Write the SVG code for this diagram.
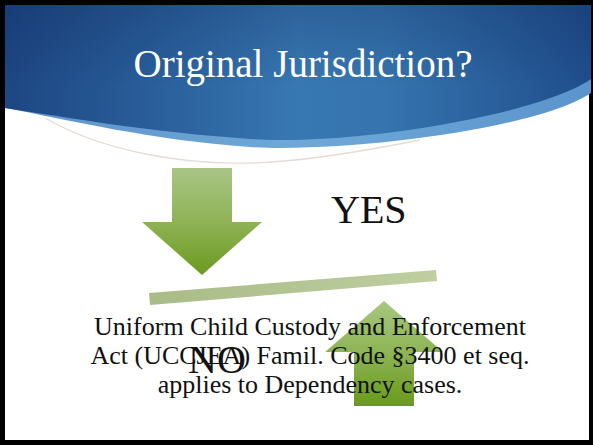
<svg xmlns="http://www.w3.org/2000/svg" width="593" height="445" viewBox="0 0 593 445">
  <style>
    .serif { font-family: "Liberation Serif", "Times New Roman", serif; }
    .title { font-size: 39px; fill: #ffffff; }
    .big { font-size: 40px; fill: #111111; }
    .body { font-size: 26px; fill: #111111; }
  </style>
  <defs>
    <linearGradient id="hdr" x1="0" y1="0" x2="1" y2="0">
      <stop offset="0" stop-color="#1d4682"/>
      <stop offset="0.3" stop-color="#2c639f"/>
      <stop offset="0.5" stop-color="#3878b2"/>
      <stop offset="0.65" stop-color="#3574ae"/>
      <stop offset="1" stop-color="#1f4d8c"/>
    </linearGradient>
    <linearGradient id="hdrShade" x1="0" y1="0" x2="0" y2="1">
      <stop offset="0" stop-color="#0a2050" stop-opacity="0.25"/>
      <stop offset="0.6" stop-color="#0a2050" stop-opacity="0"/>
    </linearGradient>
    <linearGradient id="strip" x1="0" y1="0" x2="1" y2="0">
      <stop offset="0" stop-color="#5d93c9"/>
      <stop offset="0.5" stop-color="#6fa8d8"/>
      <stop offset="1" stop-color="#5b94cb"/>
    </linearGradient>
    <linearGradient id="downG" x1="0" y1="0" x2="0" y2="1">
      <stop offset="0" stop-color="#a8c584"/>
      <stop offset="0.5" stop-color="#8fb356"/>
      <stop offset="1" stop-color="#6a9a1e"/>
    </linearGradient>
    <linearGradient id="upG" x1="0" y1="0" x2="0" y2="1">
      <stop offset="0" stop-color="#a6c77e"/>
      <stop offset="0.5" stop-color="#8db454"/>
      <stop offset="1" stop-color="#699a1c"/>
    </linearGradient>
    <linearGradient id="barG" x1="0" y1="0" x2="1" y2="0">
      <stop offset="0" stop-color="#a9bb87"/>
      <stop offset="1" stop-color="#bfcfa1"/>
    </linearGradient>
  </defs>

  <!-- slide frame -->
  <rect x="0" y="0" width="593" height="445" fill="#ffffff"/>
  <rect x="2.5" y="2.5" width="589" height="440" fill="#ffffff" stroke="#000000" stroke-width="5"/>

  <!-- header -->
  <g id="header">
    <path d="M5,5 H591 V93 C540,128 350,153 250,147 C150,140 70,120 5,108 Z" fill="url(#strip)"/>
    <path d="M5,5 H591 V79 C540,115 350,146 250,139 C150,132 70,118 5,108 Z" fill="url(#hdr)"/>
    <path d="M5,5 H591 V79 C540,115 350,146 250,139 C150,132 70,118 5,108 Z" fill="url(#hdrShade)"/>
    <path d="M45,118 C100,150 180,165 250,163 C300,162 360,152 420,140" fill="none" stroke="#e6dcd6" stroke-width="1.3"/>
  </g>

  <g id="title">
    <text class="serif title" x="303" y="77" text-anchor="middle">Original Jurisdiction?</text>
  </g>

  <g id="connectors">
    <g id="arrow-down">
      <polygon points="172,168 232,168 232,222 262,222 202,275 142,222 172,222" fill="url(#downG)"/>
    </g>
    <g id="bar">
      <polygon points="149,293 436,270 437,281 150,305" fill="url(#barG)"/>
    </g>
    <g id="arrow-up">
      <polygon points="384,301 443,352 414,352 414,406 354,406 354,352 325,352" fill="url(#upG)"/>
    </g>
  </g>

  <g id="yes">
    <text class="serif big" x="331" y="223">YES</text>
  </g>

  <g id="body">
    <text class="serif body" x="310" y="335" text-anchor="middle">Uniform Child Custody and Enforcement</text>
    <text class="serif body" x="310" y="364" text-anchor="middle">Act (UCCJEA) Famil. Code §3400 et seq.</text>
    <text class="serif body" x="310" y="393" text-anchor="middle">applies to Dependency cases.</text>
  </g>

  <g id="no">
    <text class="serif big" x="188" y="373">NO</text>
  </g>
</svg>
